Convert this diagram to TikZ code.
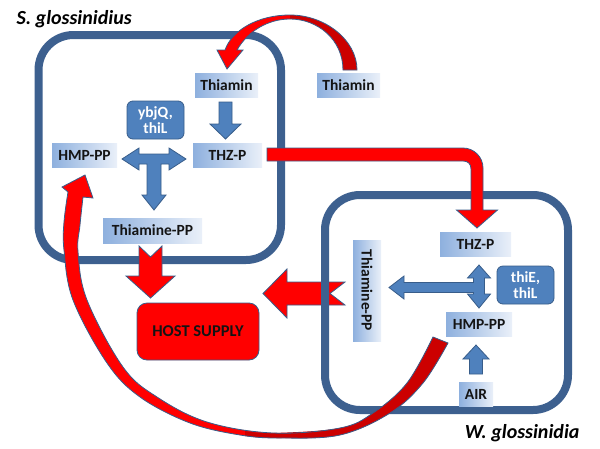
\documentclass[tikz,border=0pt]{standalone}
\usepackage{fontspec}
\setmainfont{Carlito}
\definecolor{boxblue}{RGB}{61,96,143}
\definecolor{arrfill}{RGB}{79,129,189}
\definecolor{arredge}{RGB}{56,93,138}
\definecolor{gdark}{RGB}{142,176,222}
\definecolor{glight}{RGB}{234,240,249}
\definecolor{darkred}{RGB}{204,0,0}
\definecolor{txt}{RGB}{20,20,20}
\begin{document}
\begin{tikzpicture}[x=1pt,y=-1pt,
 lbl/.style={font=\bfseries\fontsize{15.5}{17}\selectfont, text=txt},
 nbox/.style={lbl, rectangle, inner sep=0pt, left color=gdark, right color=glight, minimum height=24pt},
 gene/.style={rectangle, rounded corners=6pt, fill=arrfill, draw=arredge, line width=0.8pt, text=white, font=\bfseries\fontsize{15.5}{16}\selectfont, align=center, inner sep=0pt},
 barr/.style={fill=arrfill, draw=arredge, line width=0.8pt, line join=miter},
 rarr/.style={fill=red, draw=arredge, line width=0.8pt, line join=miter},
 redge/.style={draw=arredge, line width=0.8pt, line join=miter},
 cell/.style={draw=boxblue, line width=8pt, rounded corners=35pt},
 species/.style={font=\bfseries\itshape\fontsize{20}{22}\selectfont, text=black}
]
\useasboundingbox[fill=white] (0,0) rectangle (600,448);

% ---- S. glossinidius cell
\draw[cell] (38.5,35) rectangle (281,260);
\node[species, anchor=west] (sg) at (13,19) {S. glossinidius};

\node[nbox, minimum width=63pt] (thS) at (226.5,85) {Thiamin};
\node[nbox, minimum width=63pt] (thO) at (348.5,85) {Thiamin};
\node[nbox, minimum width=65pt] (hmpS) at (84.5,155) {HMP-PP};
\node[nbox, minimum width=69pt] (thzS) at (227.5,155) {THZ-P};
\node[nbox, minimum width=99pt, minimum height=25pt] (tppS) at (152.5,230.5) {Thiamine-PP};
\node[gene, minimum width=57pt, minimum height=38pt] (geneS) at (155.5,120) {ybjQ,\\thiL};

% Thiamin -> THZ-P
\draw[barr] (219,102) -- (232,102) -- (232,124) -- (241,124) -- (225.5,139) -- (210,124) -- (219,124) -- cycle;
% T-shaped arrow
\draw[barr] (122,159) -- (139,148) -- (139,154) -- (169,154) -- (169,148) -- (186,159) -- (169,170) -- (169,164)
  -- (161,164) -- (161,195) -- (166,195) -- (154,210) -- (142,195) -- (147,195) -- (147,164) -- (139,164) -- (139,170) -- cycle;

% Thiamine-PP -> host supply
\draw[rarr] (139,246) -- (150.5,257) -- (162,246) -- (162,276) -- (175,276) -- (150.5,298) -- (126,276) -- (139,276) -- cycle;

% W side thiamine-PP -> host supply
\draw[rarr] (345,282) -- (330,293.5) -- (345,305) -- (287,305) -- (287,318) -- (263,293.5) -- (287,269) -- (287,282) -- cycle;

% ---- W. glossinidia cell
\draw[cell] (325,195) rectangle (568,410);
\node[species, anchor=east] (wg) at (583,433) {W. glossinidia};

\node[nbox, minimum width=71pt] (thzW) at (475.5,244) {THZ-P};
\node[nbox, minimum width=66pt] (hmpW) at (479,324) {HMP-PP};
\node[nbox, minimum width=34pt] (air) at (476,394) {AIR};
\node[nbox, rotate=-90, minimum width=101pt, minimum height=28pt] (tppW) at (367,290.5) {Thiamine-PP};
\node[gene, minimum width=57pt, minimum height=38pt] (geneW) at (525.5,285) {thiE,\\thiL};

\draw[barr] (479,265) -- (490.5,278) -- (484.5,278) -- (484.5,294) -- (490.5,294) -- (479,308) -- (467.5,294) -- (473.5,294)
  -- (473.5,292.5) -- (404,292.5) -- (404,299) -- (389,287.5) -- (404,276) -- (404,282.5) -- (473.5,282.5) -- (473.5,278) -- (467.5,278) -- cycle;
\draw[barr] (476,345) -- (489,359) -- (482.5,359) -- (482.5,374) -- (469.5,374) -- (469.5,359) -- (463,359) -- cycle;

% host supply
\node[rectangle, rounded corners=10pt, fill=red, draw=arredge, line width=0.8pt, minimum width=122pt, minimum height=57pt,
  font=\bfseries\fontsize{16.5}{18}\selectfont, text=txt] (host) at (198,331.5) {HOST SUPPLY};

% THZ-P (S) -> THZ-P (W)
\draw[rarr] (267,148) -- (463,148) .. controls (474,148) and (483,157) .. (483,168) -- (483,210) -- (497.5,210) -- (477,228)
  -- (456.5,210) -- (471,210) -- (471,169) .. controls (471,164) and (468,161) .. (463,161) -- (267,161) -- cycle;

% Thiamin (outside) -> Thiamin (S)
\fill[red] (290,15) .. controls (258,15) and (232,30) .. (225,50) -- (217,50) -- (227,69) -- (243,50) -- (237,50)
  .. controls (248,31) and (268,19) .. (290,19) -- cycle;
\fill[darkred] (357,70) .. controls (357,40) and (325,15) .. (290,15) -- (290,19) .. controls (318,19) and (343,40) .. (343,70) -- cycle;
\draw[redge] (357,70) .. controls (357,40) and (325,15) .. (290,15) .. controls (258,15) and (232,30) .. (225,50)
  -- (217,50) -- (227,69) -- (243,50) -- (237,50) .. controls (248,31) and (268,19) .. (290,19)
  .. controls (318,19) and (343,40) .. (343,70) -- cycle;

% HMP-PP (W) -> HMP-PP (S)
\fill[red] plot[smooth, tension=0.6] coordinates {(448,343) (423,383) (390,413) (340,435) (280,438) (240,435) (190,423) (140,397) (107,363) (73,300) (64,250) (64,222) (68,192)}
  -- (62,187) -- (85,175) -- (93,198) -- (83,197)
  -- plot[smooth, tension=0.6] coordinates {(83,197) (80,225) (78,252) (87,300) (123,367) (157,397) (207,422) (273,433) (340,428) (373,413) (407,383) (433,337)} -- cycle;
\fill[darkred] plot[smooth, tension=0.6] coordinates {(448,343) (423,383) (390,413) (340,435) (280,438) (245,436)}
  -- plot[smooth, tension=0.6] coordinates {(245,431) (273,433) (340,428) (373,413) (407,383) (433,337)} -- cycle;
\draw[redge] plot[smooth, tension=0.6] coordinates {(448,343) (423,383) (390,413) (340,435) (280,438) (240,435) (190,423) (140,397) (107,363) (73,300) (64,250) (64,222) (68,192)}
  -- (62,187) -- (85,175) -- (93,198) -- (83,197)
  -- plot[smooth, tension=0.6] coordinates {(83,197) (80,225) (78,252) (87,300) (123,367) (157,397) (207,422) (273,433) (340,428) (373,413) (407,383) (433,337)} -- cycle;
\end{tikzpicture}
\end{document}
